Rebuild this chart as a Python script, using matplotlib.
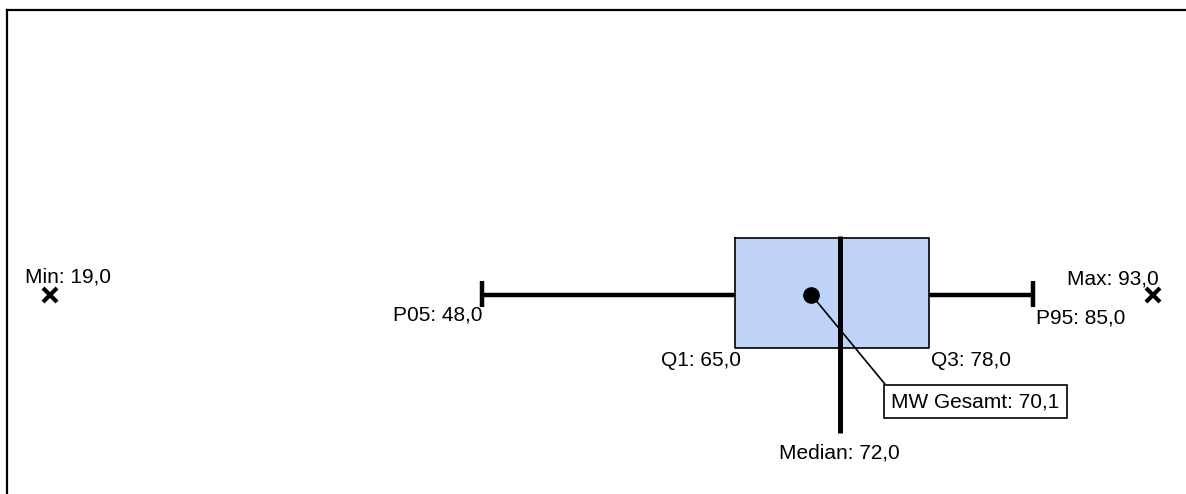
import matplotlib
matplotlib.use("Agg")
import matplotlib.pyplot as plt
from matplotlib.lines import Line2D

plt.rcParams['font.family'] = ['Liberation Sans', 'DejaVu Sans']

# Kennwerte
stat_names = ['Min', 'P05', 'Q1', 'Median', 'Q3', 'P95', 'Max']
stat_values = [19.0, 48.0, 65.0, 72.0, 78.0, 85.0, 93.0]
mean_label = 'MW Gesamt'
mean_value = 70.1

def fmt(v):
    return f"{v:.1f}".replace('.', ',')

vals = dict(zip(stat_names, stat_values))

W, H = 1186, 494
fig = plt.figure(figsize=(W / 100, H / 100), dpi=100)
ax = fig.add_axes([0, 0, 1, 1])
# horizontale Skala: 14.9 px je Einheit
px = 14.9
x0 = vals['Q1'] - 735.5 / px
ax.set_xlim(x0, x0 + W / px)
ax.set_ylim(H, 0)  # y in Pixeln von oben
ax.axis('off')

yc = 295
fs = 15

# Whisker
ax.plot([vals['P05'], vals['Q1']], [yc, yc], color='black', lw=3.2, solid_capstyle='butt', zorder=2)
ax.plot([vals['Q3'], vals['P95']], [yc, yc], color='black', lw=3.2, solid_capstyle='butt', zorder=2)
for k in ['P05', 'P95']:
    ax.plot([vals[k], vals[k]], [281, 307], color='black', lw=3.2, solid_capstyle='butt', zorder=2)

# Box
ax.fill_between([vals['Q1'], vals['Q3']], 238, 348, facecolor='#bfd3f9', edgecolor='none', zorder=1)
ax.plot([vals['Q1'], vals['Q3'], vals['Q3'], vals['Q1'], vals['Q1']],
        [238, 238, 348, 348, 238], color='black', lw=1.2, zorder=2)

# Median
ax.plot([vals['Median'], vals['Median']], [236, 433], color='black', lw=3.6, solid_capstyle='butt', zorder=3)

# Min / Max
ax.plot([vals['Min'], vals['Max']], [yc, yc], linestyle='none', marker='x',
        markersize=10, markeredgewidth=3, color='black', zorder=3)

# Mittelwert
ax.plot([mean_value], [yc], marker='o', markersize=11, color='black', zorder=4)
ax.annotate(f"{mean_label}: {fmt(mean_value)}", xy=(mean_value, yc),
            xytext=(80, -97), textcoords='offset pixels', ha='left', va='top',
            fontsize=fs,
            bbox=dict(boxstyle='square,pad=0.35', facecolor='white', edgecolor='black', lw=1.2),
            arrowprops=dict(arrowstyle='-', color='black', lw=1.2, relpos=(0, 1),
                            shrinkA=0, shrinkB=0),
            zorder=5)

# Beschriftungen
ax.text(vals['Min'] - 25 / px, 277, f"Min: {fmt(vals['Min'])}", ha='left', va='center', fontsize=fs)
ax.text(vals['P05'], 315, f"P05: {fmt(vals['P05'])}", ha='right', va='center', fontsize=fs)
ax.text(vals['Q1'] + 0.4, 360, f"Q1: {fmt(vals['Q1'])}", ha='right', va='center', fontsize=fs)
ax.text(vals['Q3'] + 0.15, 360, f"Q3: {fmt(vals['Q3'])}", ha='left', va='center', fontsize=fs)
ax.text(vals['P95'] + 0.2, 318, f"P95: {fmt(vals['P95'])}", ha='left', va='center', fontsize=fs)
ax.text(vals['Max'] + 0.4, 279, f"Max: {fmt(vals['Max'])}", ha='right', va='center', fontsize=fs)
ax.text(vals['Median'], 453, f"Median: {fmt(vals['Median'])}", ha='center', va='center', fontsize=fs)

# Rahmen links und oben
fig.add_artist(Line2D([7 / W, 7 / W], [0, 1 - 10 / H], transform=fig.transFigure, color='black', lw=1.6))
fig.add_artist(Line2D([7 / W, 1], [1 - 10 / H, 1 - 10 / H], transform=fig.transFigure, color='black', lw=1.6))

fig.savefig('out.png', dpi=100)
